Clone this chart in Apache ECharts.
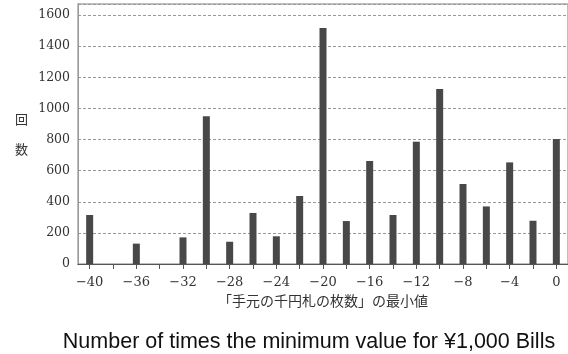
<!DOCTYPE html>
<html><head><meta charset="utf-8">
<script src="https://cdn.jsdelivr.net/npm/echarts@6/dist/echarts.min.js"></script>
<style>html,body{margin:0;padding:0;background:#fff}#c{width:568px;height:354px}</style>
</head><body><div id="c"></div>
<script>
const categories = [-40,-38,-36,-34,-32,-30,-28,-26,-24,-22,-20,-18,-16,-14,-12,-10,-8,-6,-4,-2,0];
const counts = [315,0,131,0,171,949,143,328,178,437,1516,276,662,315,786,1124,514,370,653,278,803];
const yTicks = [0,200,400,600,800,1000,1200,1400,1600];
const xTitle = '「手元の千円札の枚数」の最小値';
const yTitle = '回\n数';
const chartTitle = 'Number of times the minimum value for ¥1,000 Bills';

const chart = echarts.init(document.getElementById('c'));
chart.setOption({
  animation: false,
  title: {
    text: chartTitle, left: 304, top: 326, textAlign: 'center',
    textStyle: {fontFamily: 'Liberation Sans', fontSize: 21.5, fontWeight: 'normal', color: '#111'}
  },
  grid: {left: 78, right: -2, top: 4, bottom: 90, show: true, borderColor: '#aaa', borderWidth: 1.5},
  xAxis: {
    type: 'category',
    data: categories.map(v => v < 0 ? '−' + Math.abs(v) : String(v)),
    boundaryGap: true,
    name: xTitle, nameLocation: 'middle', nameGap: 30,
    nameTextStyle: {fontFamily: 'Noto Sans CJK JP', fontSize: 14, color: '#333'},
    axisLine: {lineStyle: {color: '#555', width: 1}},
    axisTick: {show: true, interval: 0, alignWithLabel: true, length: 5, lineStyle: {color: '#555'}},
    axisLabel: {interval: 1, margin: 12, fontFamily: 'DejaVu Serif', fontSize: 13, color: '#333'}
  },
  yAxis: {
    type: 'value', min: 0, max: 1671, interval: 200,
    name: yTitle, nameLocation: 'middle', nameGap: 50, nameRotate: 0,
    nameTextStyle: {fontFamily: 'Noto Sans CJK JP', fontSize: 13, lineHeight: 30, color: '#333'},
    axisLine: {show: true, lineStyle: {color: '#999'}},
    axisTick: {show: false},
    axisLabel: {
      showMaxLabel: false, margin: 8, fontFamily: 'DejaVu Serif', fontSize: 12.5, color: '#333',
      formatter: v => yTicks.includes(v) ? String(v) : ''
    },
    splitLine: {show: true, lineStyle: {color: '#999', type: [3, 2], width: 1}}
  },
  series: [{
    type: 'bar', data: counts, barWidth: 7,
    itemStyle: {color: '#484848', borderWidth: 0}
  }]
});
</script></body></html>
